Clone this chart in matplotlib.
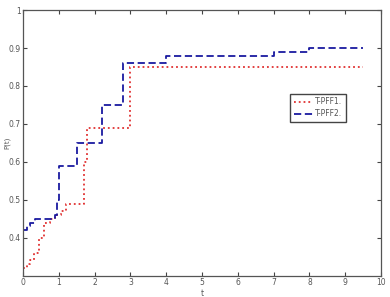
import matplotlib.pyplot as plt

# step data
t_pff1 = [0, 0.1, 0.2, 0.3, 0.45, 0.6, 0.75, 0.9, 1.05, 1.2, 1.7, 1.8, 3.0, 9.5]
p_pff1 = [0.32, 0.33, 0.34, 0.36, 0.40, 0.44, 0.45, 0.46, 0.47, 0.49, 0.60, 0.69, 0.85, 0.85]

t_pff2 = [0, 0.1, 0.2, 0.33, 0.9, 0.95, 1.0, 1.5, 2.2, 2.8, 4.0, 7.0, 8.0, 9.5]
p_pff2 = [0.42, 0.43, 0.44, 0.45, 0.46, 0.50, 0.59, 0.65, 0.75, 0.86, 0.88, 0.89, 0.90, 0.90]

labels = ["T-PFF1.", "T-PFF2."]
xticks = list(range(0, 11))
yticks = [0.4, 0.5, 0.6, 0.7, 0.8, 0.9, 1.0]
ytick_labels = ["0.4", "0.5", "0.6", "0.7", "0.8", "0.9", "1"]

fig = plt.figure(figsize=(3.9, 2.97), dpi=100)
ax = fig.add_axes([0.059, 0.072, 0.918, 0.894])

ax.plot(t_pff1, p_pff1, drawstyle="steps-post", color="#e03030",
        linestyle=":", linewidth=1.3, label=labels[0])
ax.plot(t_pff2, p_pff2, drawstyle="steps-post", color="#1a1aa0",
        linestyle=(0, (4, 2)), linewidth=1.3, label=labels[1])

ax.set_xlim(0, 10)
ax.set_ylim(0.3, 1.0)
ax.set_xticks(xticks)
ax.set_yticks(yticks)
ax.set_yticklabels(ytick_labels)
ax.tick_params(direction="in", top=True, right=True, length=3,
               labelsize=5.5, labelcolor="#555555", color="#444444", pad=2)
ax.tick_params(axis="y", pad=1.5)
for s in ax.spines.values():
    s.set_color("#555555")
    s.set_linewidth(0.9)

ax.set_xlabel("t", fontsize=5.5, color="#555555", labelpad=1)
ax.set_ylabel("P(t)", fontsize=5, color="#555555")
ax.yaxis.set_label_coords(-0.034, 0.5)

leg = ax.legend(loc="upper left", bbox_to_anchor=(0.735, 0.7), fontsize=5.5,
                fancybox=False, framealpha=1, edgecolor="#444444",
                handlelength=2.5, handletextpad=0.3, borderpad=0.5,
                labelspacing=0.4)
for text in leg.get_texts():
    text.set_color("#555555")

fig.savefig("out.png", dpi=100)
